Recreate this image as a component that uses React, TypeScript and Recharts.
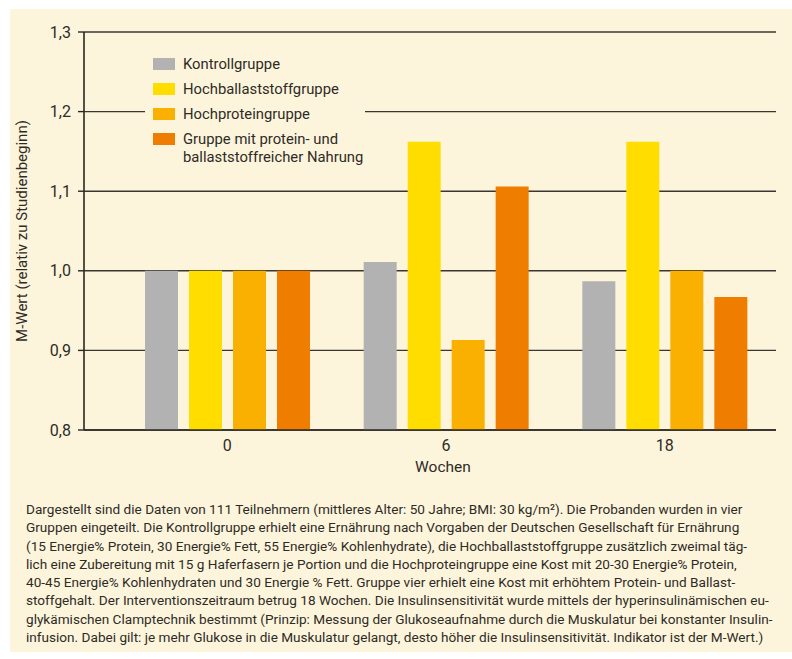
import React from 'react';
import { BarChart, Bar, XAxis, YAxis, CartesianGrid, Legend } from 'recharts';

// ─── Daten ────────────────────────────────────────────────────────────────────

const WOCHEN      = ['0', '6', '18'];
const KONTROLL    = [1.0, 1.011, 0.987];
const BALLAST     = [1.0, 1.162, 1.162];
const PROTEIN     = [1.0, 0.913, 1.0];
const KOMBI       = [1.0, 1.106, 0.967];
const Y_TICKS     = [0.8, 0.9, 1.0, 1.1, 1.2, 1.3];

const SERIES = [
  { key: 'kontroll', name: 'Kontrollgruppe', color: '#b1b2b1', values: KONTROLL },
  { key: 'ballast',  name: 'Hochballaststoffgruppe', color: '#ffdd00', values: BALLAST },
  { key: 'protein',  name: 'Hochproteingruppe', color: '#f9b000', values: PROTEIN },
  { key: 'kombi',    name: 'Gruppe mit protein- und\nballaststoffreicher Nahrung', color: '#ee7d00', values: KOMBI },
];

const CAPTION = [
  'Dargestellt sind die Daten von 111 Teilnehmern (mittleres Alter: 50 Jahre; BMI: 30 kg/m²). Die Probanden wurden in vier',
  'Gruppen eingeteilt. Die Kontrollgruppe erhielt eine Ernährung nach Vorgaben der Deutschen Gesellschaft für Ernährung',
  '(15 Energie% Protein, 30 Energie% Fett, 55 Energie% Kohlenhydrate), die Hochballaststoffgruppe zusätzlich zweimal täg-',
  'lich eine Zubereitung mit 15 g Haferfasern je Portion und die Hochproteingruppe eine Kost mit 20-30 Energie% Protein,',
  '40-45 Energie% Kohlenhydraten und 30 Energie % Fett. Gruppe vier erhielt eine Kost mit erhöhtem Protein- und Ballast-',
  'stoffgehalt. Der Interventionszeitraum betrug 18 Wochen. Die Insulinsensitivität wurde mittels der hyperinsulinämischen eu-',
  'glykämischen Clamptechnik bestimmt (Prinzip: Messung der Glukoseaufnahme durch die Muskulatur bei konstanter Insulin-',
  'infusion. Dabei gilt: je mehr Glukose in die Muskulatur gelangt, desto höher die Insulinsensitivität. Indikator ist der M-Wert.)',
];

const FONT = 'Roboto, sans-serif';
const BG   = '#fdf5db';
const INK  = '#2e2b27';

const data = WOCHEN.map((w, i) => {
  const row: Record<string, string | number> = { woche: w };
  SERIES.forEach((s) => { row[s.key] = s.values[i]; });
  return row;
});

function LegendBox({ payload }: any) {
  return (
    <div style={{ background: BG, padding: '7px 8px 4px', fontFamily: FONT, fontSize: 14.8, color: INK }}>
      {(payload ?? []).map((p: any) => (
        <div key={p.value} style={{ display: 'flex', alignItems: 'flex-start', marginBottom: 7 }}>
          <span style={{ width: 22, height: 12, background: p.color, marginTop: 3, marginRight: 8, flex: 'none' }} />
          <span style={{ whiteSpace: 'pre', lineHeight: '18px' }}>{p.value}</span>
        </div>
      ))}
    </div>
  );
}

export default function App() {
  return (
    <div style={{ position: 'absolute', left: 0, top: 0, width: 792, height: 659, background: '#fff' }}>
      <div style={{ position: 'absolute', left: 10, top: 9, width: 782, height: 643, background: BG }} />
      <div style={{ position: 'absolute', left: 0, top: 0 }}>
        <BarChart
          width={792}
          height={480}
          data={data}
          margin={{ top: 32, right: 16, left: 10, bottom: 0 }}
          barSize={33}
          barGap={11}
        >
          <CartesianGrid vertical={false} stroke="#3a3631" strokeWidth={1.4} />
          <XAxis
            dataKey="woche"
            height={50}
            padding={{ left: 34, right: 2 }}
            tick={{ fontSize: 16, fill: INK, fontFamily: FONT }}
            tickLine={false}
            tickSize={0}
            tickMargin={10}
            axisLine={{ stroke: '#2a2723', strokeWidth: 1.6 }}
            label={{ value: 'Wochen', position: 'insideBottom', offset: 8, dx: 13, fontSize: 15.5, fill: INK, fontFamily: FONT }}
          />
          <YAxis
            width={74}
            domain={[0.8, 1.3]}
            ticks={Y_TICKS}
            interval={0}
            tickFormatter={(v: number) => v.toFixed(1).replace('.', ',')}
            tick={{ fontSize: 16, fill: INK, fontFamily: FONT }}
            tickSize={6}
            tickMargin={7}
            tickLine={{ stroke: '#2a2723', strokeWidth: 1.4 }}
            axisLine={{ stroke: '#2a2723', strokeWidth: 1.6 }}
            label={{
              value: 'M-Wert (relativ zu Studienbeginn)',
              angle: -90,
              position: 'insideLeft',
              offset: 12,
              fontSize: 15,
              fill: INK,
              fontFamily: FONT,
              style: { textAnchor: 'middle' },
            }}
          />
          <Legend
            layout="horizontal"
            verticalAlign="middle"
            align="center"
            itemSorter={(item: any) => SERIES.findIndex((s) => s.name === item.value)}
            wrapperStyle={{ left: 145, top: 48, width: 220 }}
            content={<LegendBox />}
          />
          {SERIES.map((s) => (
            <Bar key={s.key} dataKey={s.key} name={s.name} fill={s.color} isAnimationActive={false} />
          ))}
        </BarChart>
      </div>
      <div
        style={{
          position: 'absolute', left: 26, top: 500,
          fontFamily: FONT, fontSize: 13.6, lineHeight: '18.3px', color: INK,
        }}
      >
        {CAPTION.map((line) => (
          <div key={line} style={{ whiteSpace: 'nowrap' }}>{line}</div>
        ))}
      </div>
    </div>
  );
}
